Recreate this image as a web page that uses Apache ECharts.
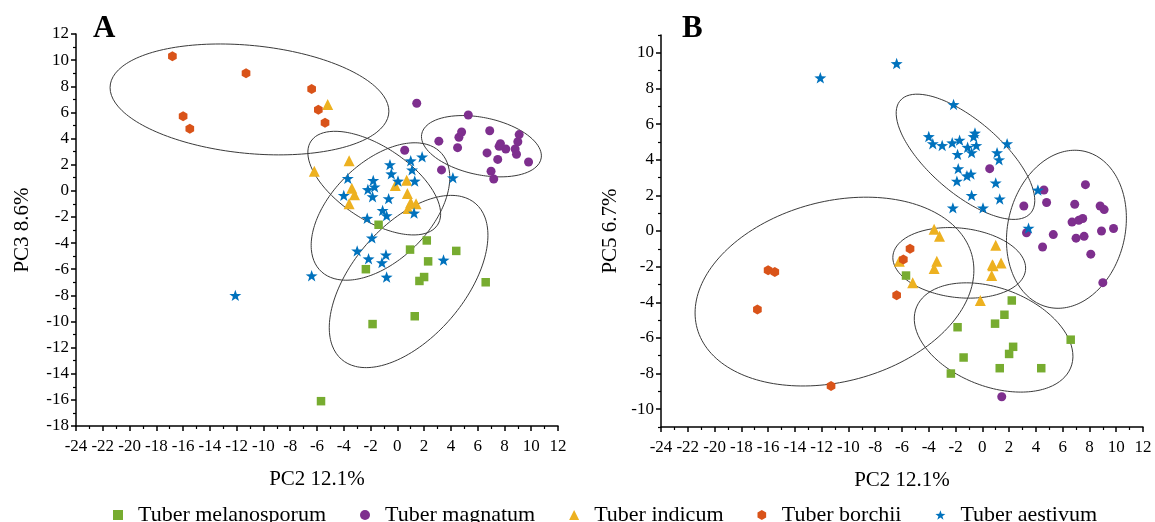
<!DOCTYPE html>
<html>
<head>
<meta charset="utf-8">
<script src="https://cdn.jsdelivr.net/npm/echarts@6/dist/echarts.min.js"></script>
<style>
html,body{margin:0;padding:0;background:#fff;}
#chart{width:1155px;height:522px;}
</style>
</head>
<body>
<div id="chart"></div>
<script>
// ---- Data (PC2 shared x, PC3 for panel A, PC5 for panel B) ----
const groupNames = ['Tuber melanosporum', 'Tuber magnatum', 'Tuber indicum', 'Tuber borchii', 'Tuber aestivum'];

const melanoX   = [-1.4, 2.2, 0.95, 4.4, 2.3, -2.35, 2.0, 1.65, 6.6, 1.3, -1.85, -5.7];
const melanoPC3 = [-2.6, -3.8, -4.5, -4.6, -5.4, -6.0, -6.6, -6.9, -7.0, -9.6, -10.2, -16.1];
const melanoPC5 = [-7.1, -3.9, -5.2, -7.7, -6.5, -8.0, -6.9, -4.7, -6.1, -7.7, -5.4, -2.5];

const magnatumX   = [0.55, 1.45, 3.1, 3.3, 4.5, 4.6, 4.8, 5.3, 6.7, 6.9, 7.0, 7.2, 7.5, 7.7, 8.1, 8.8, 8.9, 9.0, 9.1, 9.8, 7.6];
const magnatumPC3 = [3.1, 6.7, 3.8, 1.6, 3.3, 4.1, 4.5, 5.8, 2.9, 4.6, 1.5, 0.9, 2.4, 3.6, 3.2, 3.2, 2.8, 3.75, 4.3, 2.2, 3.4];
const magnatumPC5 = [3.5, -9.3, 1.4, -0.1, -0.9, 2.3, 1.6, -0.2, 0.5, 1.5, -0.4, 0.6, 0.7, 2.6, -1.3, 1.4, 0.0, -2.9, 1.2, 0.14, -0.3];

const indicumX   = [-5.2, -6.2, -3.6, -3.4, -3.2, -3.6, -0.15, 0.7, 0.75, 1.0, 1.4, 0.8];
const indicumPC3 = [6.6, 1.5, 2.3, 0.2, -0.3, -1.0, 0.4, 0.8, -0.2, -0.9, -1.0, -1.35];
const indicumPC5 = [-2.9, -1.7, 0.1, -1.7, -0.3, -2.1, -3.9, -2.5, -1.9, -0.8, -1.8, -1.95];

const borchiiX   = [-16.8, -16.0, -15.5, -11.3, -6.4, -5.9, -5.4];
const borchiiPC3 = [10.3, 5.7, 4.75, 9.0, 7.8, 6.2, 5.2];
const borchiiPC5 = [-4.4, -2.2, -2.3, -8.7, -3.6, -1.6, -1.0];

const aestivumX   = [-12.1, -6.4, -4.0, -3.7, -3.0, -2.25, -2.2, -2.15, -1.9, -1.85, -1.8, -1.7, -1.15, -1.1, -0.85, -0.8, -0.8, -0.65, -0.55, -0.45, 0.05, 1.0, 1.1, 1.25, 1.3, 1.85, 3.45, 4.15];
const aestivumPC3 = [-8.0, -6.5, -0.35, 0.95, -4.6, -2.1, 0.1, -5.2, -3.6, -0.45, 0.8, 0.3, -5.5, -1.5, -4.9, -6.6, -1.9, -0.6, 2.0, 1.3, 0.75, 2.3, 1.6, -1.7, 0.75, 2.6, -5.3, 1.0];
const aestivumPC5 = [8.6, 9.4, 5.3, 4.9, 4.8, 4.95, 1.3, 7.1, 2.8, 4.3, 3.5, 5.1, 3.1, 4.7, 3.2, 2.0, 4.4, 5.3, 5.5, 4.8, 1.3, 2.7, 4.4, 4.0, 1.8, 4.9, 0.16, 2.3];

const xName = 'PC2 12.1%';
const yNameA = 'PC3 8.6%';
const yNameB = 'PC5 6.7%';
const evenTicksB = [-10, -8, -6, -4, -2, 0, 2, 4, 6, 8, 10];
const oddTicksB = [-11, -9, -7, -5, -3, -1, 1, 3, 5, 7, 9, 11];

// ---- Styles ----
const colors = ['#77AC30', '#7E2F8E', '#EDB120', '#D95319', '#0072BD'];
const HEX = 'path://M0,-10 L8.66,-5 L8.66,5 L0,10 L-8.66,5 L-8.66,-5 Z';
const STAR = 'path://M0,-10 L2.35,-3.24 L9.51,-3.09 L3.8,1.24 L5.88,8.09 L0,4 L-5.88,8.09 L-3.8,1.24 L-9.51,-3.09 L-2.35,-3.24 Z';
const symbols = ['rect', 'circle', 'triangle', HEX, STAR];
const sizes = [8.5, 9, 11, 10, 12];
const FONT = 'Liberation Serif';
const ELLIPSE_ALPHA = 0.27;

const groupsX = [melanoX, magnatumX, indicumX, borchiiX, aestivumX];
const groupsA = [melanoPC3, magnatumPC3, indicumPC3, borchiiPC3, aestivumPC3];
const groupsB = [melanoPC5, magnatumPC5, indicumPC5, borchiiPC5, aestivumPC5];

function zip(xs, ys) { return xs.map((x, i) => [x, ys[i]]); }

function ellipse(xs, ys) {
  const n = xs.length;
  const mx = xs.reduce((a, b) => a + b, 0) / n;
  const my = ys.reduce((a, b) => a + b, 0) / n;
  let sxx = 0, syy = 0, sxy = 0;
  for (let i = 0; i < n; i++) {
    sxx += (xs[i] - mx) ** 2; syy += (ys[i] - my) ** 2; sxy += (xs[i] - mx) * (ys[i] - my);
  }
  sxx /= (n - 1); syy /= (n - 1); sxy /= (n - 1);
  const d2 = n - 2;
  const f = d2 / 2 * (Math.pow(ELLIPSE_ALPHA, -2 / d2) - 1);
  const k = Math.sqrt(2 * (n - 1) / (n - 2) * f);
  const sx = Math.sqrt(sxx), sy = Math.sqrt(syy);
  const r = sxy / (sx * sy);
  const pts = [];
  for (let j = 0; j <= 180; j++) {
    const t = j / 180 * 2 * Math.PI;
    pts.push([mx + k * sx * Math.cos(t), my + k * sy * (r * Math.cos(t) + Math.sqrt(1 - r * r) * Math.sin(t))]);
  }
  return pts;
}

const series = [];
[0, 1].forEach(p => {
  const ys = p === 0 ? groupsA : groupsB;
  groupNames.forEach((name, g) => {
    series.push({
      type: 'line', xAxisIndex: p, yAxisIndex: p === 0 ? 0 : 1,
      data: ellipse(groupsX[g], ys[g]), showSymbol: false, symbol: 'none',
      lineStyle: { color: '#3a3a3a', width: 1 }, silent: true, z: 1, animation: false
    });
  });
  groupNames.forEach((name, g) => {
    series.push({
      type: 'scatter', name: name, xAxisIndex: p, yAxisIndex: p === 0 ? 0 : 1,
      data: zip(groupsX[g], ys[g]), symbol: symbols[g], symbolSize: sizes[g], symbolKeepAspect: true,
      itemStyle: { color: colors[g], opacity: 1 }, z: 3, animation: false
    });
  });
});

const axisLine = { show: true, onZero: false, lineStyle: { color: '#000', width: 1.5 } };
const labelStyle = { color: '#000', fontFamily: FONT, fontSize: 17 };
const nameStyle = { color: '#000', fontFamily: FONT, fontSize: 21 };

function xAxis(gi) {
  return {
    type: 'value', gridIndex: gi, min: -24, max: 12, interval: 2, position: 'bottom',
    axisLine: axisLine, splitLine: { show: false },
    axisTick: { show: true, length: 5, lineStyle: { color: '#000', width: 1.5 } },
    minorTick: { show: true, splitNumber: 2, length: 3, lineStyle: { color: '#000', width: 1.2 } },
    axisLabel: Object.assign({ margin: 12 }, labelStyle),
    name: xName, nameLocation: 'middle', nameGap: 43, nameTextStyle: nameStyle
  };
}

const option = {
  backgroundColor: '#fff',
  animation: false,
  grid: [
    { left: 76, top: 34, width: 482, height: 392 },
    { left: 661, top: 35, width: 482, height: 392 }
  ],
  xAxis: [xAxis(0), xAxis(1)],
  yAxis: [
    {
      type: 'value', gridIndex: 0, min: -18, max: 12, interval: 2, position: 'left',
      axisLine: axisLine, splitLine: { show: false },
      axisTick: { show: true, length: 5, lineStyle: { color: '#000', width: 1.5 } },
      minorTick: { show: true, splitNumber: 2, length: 3, lineStyle: { color: '#000', width: 1.2 } },
      axisLabel: Object.assign({ margin: 7 }, labelStyle),
      name: yNameA, nameLocation: 'middle', nameGap: 43, nameRotate: 90, nameTextStyle: nameStyle
    },
    {
      type: 'value', gridIndex: 1, min: -11, max: 11, interval: 1, position: 'left',
      axisLine: axisLine, splitLine: { show: false },
      axisTick: { show: true, length: 5, customValues: evenTicksB, lineStyle: { color: '#000', width: 1.5 } },
      axisLabel: Object.assign({ margin: 7, customValues: evenTicksB }, labelStyle),
      name: yNameB, nameLocation: 'middle', nameGap: 40, nameRotate: 90, nameTextStyle: nameStyle
    },
    {
      type: 'value', gridIndex: 1, min: -11, max: 11, interval: 1, position: 'left', offset: 0,
      axisLine: { show: false, onZero: false }, splitLine: { show: false },
      axisTick: { show: true, length: 3, customValues: oddTicksB, lineStyle: { color: '#000', width: 1.2 } },
      axisLabel: { show: false }
    }
  ],
  legend: {
    data: groupNames.map((n, g) => ({ name: n, icon: symbols[g] })),
    left: 108, top: 499, itemWidth: 10, itemHeight: 10, itemGap: 34,
    textStyle: { color: '#000', fontFamily: FONT, fontSize: 22, padding: [0, 0, 0, 10] },
    selectedMode: false
  },
  graphic: [
    { type: 'text', left: 93, top: 13, style: { text: 'A', font: 'bold 31px "Liberation Serif"', fill: '#000' } },
    { type: 'text', left: 682, top: 13, style: { text: 'B', font: 'bold 31px "Liberation Serif"', fill: '#000' } }
  ],
  series: series
};

const chart = echarts.init(document.getElementById('chart'), null, { renderer: 'canvas' });
chart.setOption(option);
</script>
</body>
</html>
